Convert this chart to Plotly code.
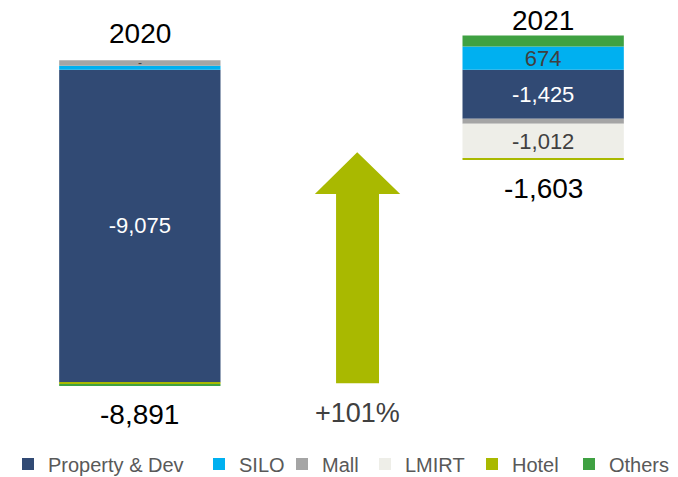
import plotly.graph_objects as go

# 数据
years = ["2020", "2021"]
xpos = [0, 2]
series = ["Property & Dev", "SILO", "Mall", "LMIRT", "Hotel", "Others"]
values = {
    "Property & Dev": [-9075, -1425],
    "SILO": [115, 674],
    "Mall": [165, -145],
    "LMIRT": [0, -1012],
    "Hotel": [-55, -20],
    "Others": [-41, 325],
}
labels = {
    "Property & Dev": ["-9,075", "-1,425"],
    "SILO": ["", "674"],
    "Mall": ["", ""],
    "LMIRT": ["", "-1,012"],
    "Hotel": ["", ""],
    "Others": ["", ""],
}
totals = ["-8,891", "-1,603"]
change = "+101%"

colors = {
    "Property & Dev": "#314A74",
    "SILO": "#00B0F0",
    "Mall": "#A5A5A5",
    "LMIRT": "#EEEEE8",
    "Hotel": "#A9B900",
    "Others": "#3FA142",
}
label_colors = {
    "Property & Dev": "#FFFFFF",
    "SILO": "#404040",
    "Mall": "#404040",
    "LMIRT": "#404040",
    "Hotel": "#404040",
    "Others": "#404040",
}

FONT = "Liberation Sans"
W, H = 678, 477

# 图例各项的左侧位置（像素）
legend_left_px = [0, 191, 274, 357, 464, 561]

fig = go.Figure()
for i, s in enumerate(series):
    fig.add_trace(go.Bar(
        x=xpos, y=values[s], name=s, width=0.8,
        marker=dict(color=colors[s], line=dict(width=0)),
        text=labels[s], textposition="inside", insidetextanchor="middle",
        textfont=dict(family=FONT, size=22, color=label_colors[s]),
        constraintext="none", hoverinfo="skip",
        legend="legend" if i == 0 else f"legend{i + 1}",
    ))

# 顶部年份和底部合计
for i, x in enumerate(xpos):
    pos = sum(values[s][i] for s in series if values[s][i] > 0)
    neg = sum(values[s][i] for s in series if values[s][i] < 0)
    fig.add_annotation(x=x, y=pos, text=years[i], showarrow=False,
                       yanchor="bottom", yshift=[9, -3][i],
                       font=dict(family=FONT, size=28, color="#000000"))
    fig.add_annotation(x=x, y=neg, text=totals[i], showarrow=False,
                       yanchor="top", yshift=-12,
                       font=dict(family=FONT, size=28, color="#000000"))

# 2020 LMIRT 零值标签
fig.add_annotation(x=xpos[0], y=values["SILO"][0] + values["Mall"][0] / 2, text="-",
                   showarrow=False, font=dict(family=FONT, size=12, color="#404040"))

# 箭头
fig.add_shape(type="path", xref="paper", yref="paper",
              path="M 0.491 0.076 L 0.562 0.076 L 0.562 0.542 L 0.597 0.542 "
                   "L 0.526 0.645 L 0.456 0.542 L 0.491 0.542 Z",
              fillcolor=colors["Hotel"], line=dict(width=0))
fig.add_annotation(xref="paper", yref="paper", x=0.526, y=0.003, text=change,
                   showarrow=False, yanchor="middle",
                   font=dict(family=FONT, size=27, color="#404040"))

legends = {}
for i, px in enumerate(legend_left_px):
    key = "legend" if i == 0 else f"legend{i + 1}"
    legends[key] = dict(orientation="h", xref="container", yref="container",
                        x=px / W, xanchor="left", y=0.044, yanchor="middle",
                        font=dict(family=FONT, size=20, color="#595959"),
                        bgcolor="rgba(0,0,0,0)")

fig.update_layout(
    barmode="relative",
    width=W, height=H,
    margin=dict(l=31, r=42, t=0, b=71),
    paper_bgcolor="white", plot_bgcolor="white",
    showlegend=True,
    xaxis=dict(range=[-0.5, 2.5], visible=False),
    yaxis=dict(range=[-10000, 1795], visible=False),
    **legends,
)

fig.write_html("out.html")
